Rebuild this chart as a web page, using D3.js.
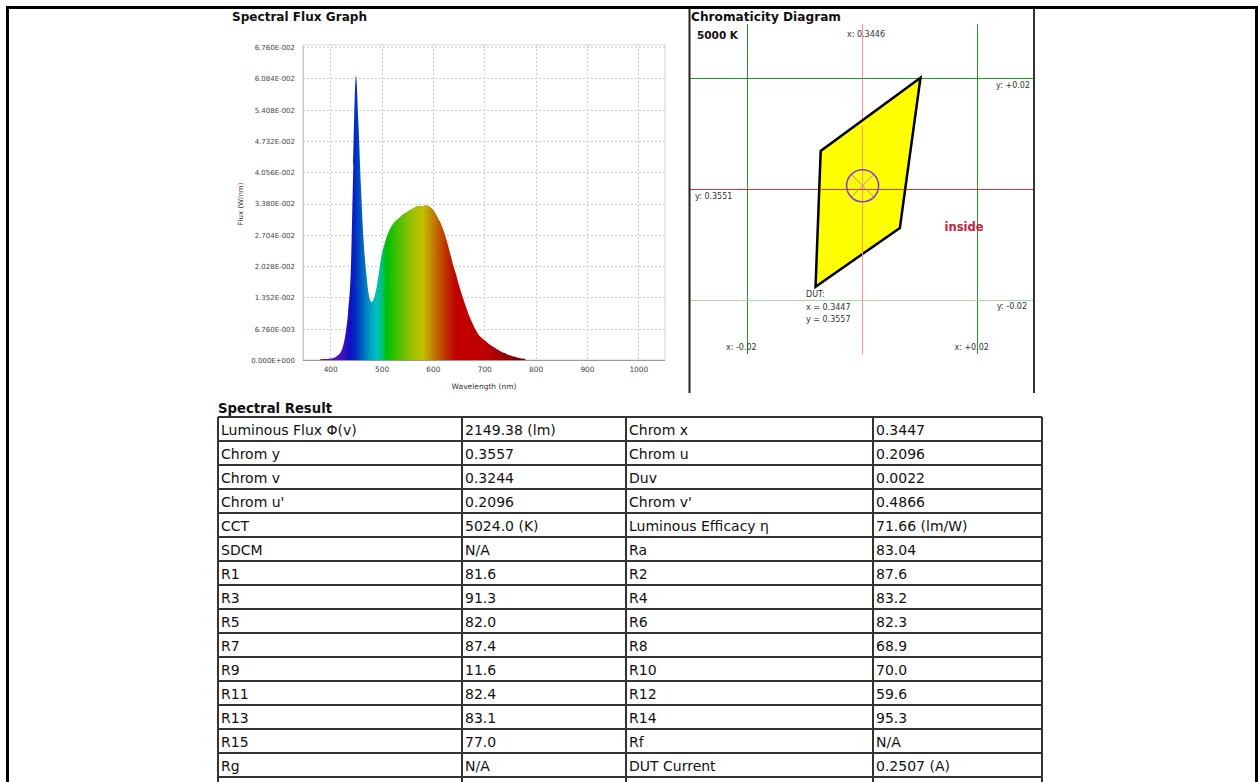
<!DOCTYPE html>
<html><head><meta charset="utf-8">
<script src="https://cdn.jsdelivr.net/npm/d3@7"></script>
<style>body{margin:0;background:#fff;} svg{display:block;}</style>
</head><body><svg id="c" width="1258" height="782"></svg>
<script>
// ---------- Spectral flux data ----------
const wavelengths = [380,385,390,395,400,405,410,415,420,425,430,435,440,445,450,455,460,465,470,475,480,485,490,495,500,505,510,515,520,525,530,535,540,545,550,555,560,565,570,575,580,585,590,595,600,605,610,615,620,625,630,635,640,645,650,655,660,665,670,675,680,685,690,695,700,705,710,715,720,725,730,735,740,745,750,755,760,765,770,775,780];
const flux = [0.0001,0.0002,0.0002,0.0002,0.0003,0.0004,0.0006,0.0010,0.0016,0.0030,0.0058,0.0105,0.0190,0.0420,0.0614,0.0510,0.0370,0.0258,0.0190,0.0142,0.0125,0.0133,0.0155,0.0190,0.0226,0.0248,0.0266,0.0280,0.0290,0.0298,0.0303,0.0308,0.0313,0.0317,0.0320,0.0324,0.0327,0.0330,0.0333,0.0333,0.0332,0.0335,0.0333,0.0330,0.0325,0.0317,0.0306,0.0296,0.0282,0.0265,0.0245,0.0224,0.0203,0.0185,0.0164,0.0146,0.0129,0.0113,0.0097,0.0084,0.0072,0.0062,0.0053,0.0048,0.0043,0.0039,0.0034,0.0030,0.0027,0.0023,0.0020,0.0017,0.0015,0.0012,0.0010,0.0008,0.0007,0.0005,0.0004,0.0003,0.0002];
const yTickValues = [0,0.00676,0.01352,0.02028,0.02704,0.0338,0.04056,0.04732,0.05408,0.06084,0.0676];
const xTickValues = [400,500,600,700,800,900,1000];
// spectrum colour stops
const stopWl = [380,400,420,440,450,460,470,480,490,500,510,530,550,570,580,590,600,615,630,645,700,730,760,780];
const stopColor = ["#4a1a7a","#5a14a8","#4512c0","#1010c4","#0030c4","#0058c0","#0080c0","#00a8c0","#00c0c0","#00c080","#00c000","#40c000","#80c000","#b0c000","#c0c000","#c0a000","#c08000","#c05000","#c02400","#c00000","#c00000","#a40000","#840000","#640000"];

// ---------- Chromaticity data ----------
const targetX = 0.3446, targetY = 0.3551, tolerance = 0.02;
const quadX = [0.3548,0.3374,0.3365,0.3512];
const quadY = [0.3752,0.3620,0.3375,0.3481];
const dutX = 0.3447, dutY = 0.3557;

// ---------- Table data ----------
const leftLabels = ["Luminous Flux Φ(v)","Chrom y","Chrom v","Chrom u'","CCT","SDCM","R1","R3","R5","R7","R9","R11","R13","R15","Rg",""];
const leftValues = ["2149.38 (lm)","0.3557","0.3244","0.2096","5024.0 (K)","N/A","81.6","91.3","82.0","87.4","11.6","82.4","83.1","77.0","N/A",""];
const rightLabels = ["Chrom x","Chrom u","Duv","Chrom v'","Luminous Efficacy η","Ra","R2","R4","R6","R8","R10","R12","R14","Rf","DUT Current",""];
const rightValues = ["0.3447","0.2096","0.0022","0.4866","71.66 (lm/W)","83.04","87.6","83.2","82.3","68.9","70.0","59.6","95.3","N/A","0.2507 (A)",""];

const svg = d3.select("#c");
const FONT = "DejaVu Sans, Verdana, sans-serif";

// ================= Spectral Flux Graph =================
const sx = d3.scaleLinear().domain([347, 1052]).range([303, 665]);
const sy = d3.scaleLinear().domain([0, 0.0676]).range([360, 47]);

svg.append("text").attr("x",232).attr("y",21).attr("font-family",FONT).attr("font-weight","bold")
  .attr("font-size",13).attr("textLength",135).attr("lengthAdjust","spacingAndGlyphs").attr("fill","#111").text("Spectral Flux Graph");

svg.append("rect").attr("x",303).attr("y",45).attr("width",362).attr("height",315)
  .attr("fill","none").attr("stroke","#d4d4d4").attr("stroke-width",1);
const gp = svg.append("g");
gp.selectAll("line.h").data(yTickValues.slice(1)).join("line")
  .attr("x1",303).attr("x2",665).attr("y1",d=>Math.round(sy(d))+0.5).attr("y2",d=>Math.round(sy(d))+0.5)
  .attr("stroke","#d0d0d0").attr("stroke-dasharray","2,2");
gp.selectAll("line.v").data(xTickValues).join("line")
  .attr("y1",45).attr("y2",360).attr("x1",d=>Math.round(sx(d))+0.5).attr("x2",d=>Math.round(sx(d))+0.5)
  .attr("stroke","#d0d0d0").attr("stroke-dasharray","2,2");

const defs = svg.append("defs");
const grad = defs.append("linearGradient").attr("id","spec").attr("gradientUnits","userSpaceOnUse")
  .attr("x1",sx(380)).attr("x2",sx(780)).attr("y1",0).attr("y2",0);
grad.selectAll("stop").data(stopWl).join("stop")
  .attr("offset",(d)=>(d-380)/400).attr("stop-color",(d,i)=>stopColor[i]);

const area = d3.area().x((d,i)=>sx(wavelengths[i])).y0(sy(0)).y1(d=>sy(d)).curve(d3.curveMonotoneX);
svg.append("path").datum(flux).attr("d",area).attr("fill","url(#spec)");

svg.append("line").attr("x1",303).attr("x2",665).attr("y1",360.5).attr("y2",360.5).attr("stroke","#9a9a9a");
svg.append("line").attr("x1",303.5).attr("x2",303.5).attr("y1",45).attr("y2",360).attr("stroke","#c8c8c8");

function fmtE(v){
  const s = v.toExponential(3); const parts = s.split("e"); const n = parseInt(parts[1]);
  return parts[0]+"E"+(n<0?"-":"+")+String(Math.abs(n)).padStart(3,"0");
}
const yAxis = svg.append("g").attr("transform","translate(295,0)")
  .call(d3.axisLeft(sy).tickValues(yTickValues).tickFormat(fmtE).tickSize(0).tickPadding(0));
yAxis.select(".domain").remove();
yAxis.selectAll("text").attr("font-family",FONT).attr("font-size",7).attr("fill","#444").attr("dy","0.35em");

const xAxis = svg.append("g").attr("transform","translate(0,367)")
  .call(d3.axisBottom(sx).tickValues(xTickValues).tickFormat(d3.format("d")).tickSize(0).tickPadding(0));
xAxis.select(".domain").remove();
xAxis.selectAll("text").attr("font-family",FONT).attr("font-size",7.4).attr("fill","#444");

svg.append("text").attr("x",484).attr("y",388.5).attr("text-anchor","middle").attr("font-family",FONT)
  .attr("font-size",7.5).attr("fill","#333").text("Wavelength (nm)");
svg.append("text").attr("transform","translate(243,204) rotate(-90)").attr("text-anchor","middle")
  .attr("font-family",FONT).attr("font-size",7).attr("fill","#333").text("Flux (W/nm)");

// ================= Chromaticity Diagram =================
const cx = d3.scaleLinear().domain([targetX - tolerance, targetX + tolerance]).range([747.3, 976.7]);
const cy = d3.scaleLinear().domain([targetY - tolerance, targetY + tolerance]).range([300, 78.3]);

svg.append("text").attr("x",691).attr("y",21).attr("font-family",FONT).attr("font-weight","bold")
  .attr("font-size",13).attr("textLength",150).attr("lengthAdjust","spacingAndGlyphs").attr("fill","#111").text("Chromaticity Diagram");
svg.append("text").attr("x",697).attr("y",38.5).attr("font-family",FONT).attr("font-weight","bold")
  .attr("font-size",11).attr("textLength",41).attr("lengthAdjust","spacingAndGlyphs").attr("fill","#111").text("5000 K");

const GREEN = "#279427", PINK = "#ff9494", RED = "#ee2a2a", PALEGREEN = "#a8d8a8";
const vLines = [
  {v: targetX - tolerance, c: GREEN},
  {v: targetX, c: PINK},
  {v: targetX + tolerance, c: GREEN}
];
svg.selectAll("line.vg").data(vLines).join("line").attr("class","vg")
  .attr("x1",d=>Math.round(cx(d.v))+0.5).attr("x2",d=>Math.round(cx(d.v))+0.5)
  .attr("y1",24).attr("y2",354).style("stroke",d=>d.c).style("stroke-width",1);
const hLines = [
  {v: targetY + tolerance, c: GREEN},
  {v: targetY, c: RED},
  {v: targetY - tolerance, c: PALEGREEN}
];
svg.selectAll("line.hg").data(hLines).join("line").attr("class","hg")
  .attr("x1",689).attr("x2",1034)
  .attr("y1",d=>Math.round(cy(d.v))+0.5).attr("y2",d=>Math.round(cy(d.v))+0.5)
  .style("stroke",d=>d.c).style("stroke-width",1);

const quadPts = quadX.map((x,i)=>[cx(x), cy(quadY[i])]);
svg.append("path").attr("d", d3.line()(quadPts)+"Z").attr("fill","#ffff00").attr("stroke","#000")
  .attr("stroke-width",2.5).attr("stroke-linejoin","miter");

// centre lines visible through the polygon
const cxMid = Math.round(cx(targetX))+0.5, cyMid = Math.round(cy(targetY))+0.5;
svg.append("line").attr("x1",cxMid).attr("x2",cxMid).attr("y1",cy(0.3665)).attr("y2",cy(0.3420))
  .style("stroke",PINK).style("stroke-width",1);
svg.append("line").attr("x1",cx(0.3375)).attr("x2",cx(0.3520)).attr("y1",cyMid).attr("y2",cyMid)
  .style("stroke",RED).style("stroke-width",1);

const mx = cx(dutX), my = cy(dutY), r = 16;
svg.append("line").attr("x1",mx - r*0.7).attr("y1",my - r*0.7).attr("x2",mx + r*0.7).attr("y2",my + r*0.7).attr("stroke","#b080e0").attr("stroke-width",1);
svg.append("line").attr("x1",mx - r*0.7).attr("y1",my + r*0.7).attr("x2",mx + r*0.7).attr("y2",my - r*0.7).attr("stroke","#b080e0").attr("stroke-width",1);
svg.append("circle").attr("cx",mx).attr("cy",my).attr("r",r).attr("fill","none").attr("stroke","#8a3be2").attr("stroke-width",1.6);

const small = (x,y,t,anchor)=>svg.append("text").attr("x",x).attr("y",y).attr("font-family",FONT)
  .attr("font-size",8).attr("fill","#333").attr("text-anchor",anchor||"start").text(t);
small(866, 36.5, "x: " + targetX.toFixed(4), "middle");
small(1030, 88, "y: +" + tolerance.toFixed(2), "end");
small(695, 198.5, "y: " + targetY.toFixed(4));
small(1027, 308.5, "y: -" + tolerance.toFixed(2), "end");
small(cx(targetX - tolerance)-6, 349.5, "x: -" + tolerance.toFixed(2), "middle");
small(cx(targetX + tolerance)-5, 349.5, "x: +" + tolerance.toFixed(2), "middle");
small(806, 297, "DUT:");
small(806, 309.5, "x = " + dutX.toFixed(4));
small(806, 321.5, "y = " + dutY.toFixed(4));
svg.append("text").attr("x",964).attr("y",230.5).attr("text-anchor","middle").attr("font-family",FONT)
  .attr("font-weight","bold").attr("font-size",11.5).attr("fill","#c8203c").text("inside");

svg.append("line").attr("x1",689.5).attr("x2",689.5).attr("y1",8).attr("y2",393).attr("stroke","#222").attr("stroke-width",2);
svg.append("line").attr("x1",1034).attr("x2",1034).attr("y1",8).attr("y2",393).attr("stroke","#333").attr("stroke-width",2);

// ================= Table =================
svg.append("text").attr("x",218).attr("y",413).attr("font-family",FONT).attr("font-weight","bold")
  .attr("font-size",13.5).attr("textLength",114).attr("lengthAdjust","spacingAndGlyphs").attr("fill","#111").text("Spectral Result");

const colX = [218, 462, 626, 873, 1042];
const rowH = 24, tableTop = 417;
const rows = leftLabels.map((d,i)=>[leftLabels[i], leftValues[i], rightLabels[i], rightValues[i]]);
const tg = svg.append("g");
rows.forEach((row,i)=>{
  const y = tableTop + i*rowH;
  row.forEach((cell,j)=>{
    tg.append("text").attr("x",colX[j]+3).attr("y",y+18).attr("font-family",FONT).attr("font-size",14)
      .attr("fill","#111").text(cell);
  });
});
d3.range(rows.length+1).forEach(i=>{
  const y = tableTop + i*rowH;
  tg.append("line").attr("x1",colX[0]).attr("x2",colX[4]).attr("y1",y).attr("y2",y).attr("stroke","#333").attr("stroke-width",2);
});
colX.forEach(x=>{
  tg.append("line").attr("x1",x).attr("x2",x).attr("y1",tableTop).attr("y2",782).attr("stroke","#333").attr("stroke-width",2);
});

// ================= Outer frame =================
svg.append("line").attr("x1",6).attr("x2",1258).attr("y1",7.5).attr("y2",7.5).attr("stroke","#000").attr("stroke-width",3);
svg.append("line").attr("x1",7.5).attr("x2",7.5).attr("y1",6).attr("y2",782).attr("stroke","#000").attr("stroke-width",3);
svg.append("line").attr("x1",1256.5).attr("x2",1256.5).attr("y1",6).attr("y2",782).attr("stroke","#000").attr("stroke-width",3);
</script></body></html>
